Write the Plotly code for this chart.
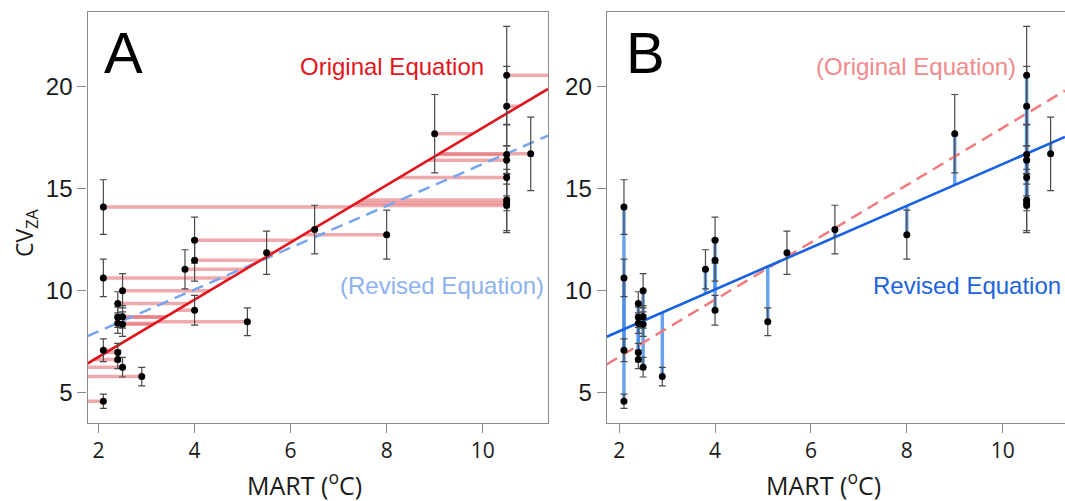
import plotly.graph_objects as go

# ---------------- data ----------------
mart = [2.1, 2.1, 2.1, 2.1,
        2.4, 2.4, 2.4, 2.4, 2.4,
        2.5, 2.5, 2.5, 2.5,
        2.9, 3.8, 4.0, 4.0, 4.0, 5.1, 5.5, 6.5, 8.0, 9.0,
        10.5, 10.5, 10.5, 10.5, 10.5, 10.5, 10.5, 10.5,
        11.0]
cvza = [14.1, 10.63, 7.08, 4.58,
        9.38, 8.70, 8.41, 6.97, 6.63,
        10.0, 8.72, 8.36, 6.25,
        5.79, 11.05, 12.48, 11.5, 9.04, 8.48, 11.86, 13.0, 12.75, 17.7,
        20.56, 19.05, 16.68, 16.40, 15.55, 14.45, 14.30, 14.18,
        16.71]
cv_err = [1.34, 0.92, 0.56, 0.35,
          0.57, 0.50, 0.50, 0.45, 0.45,
          0.84, 0.55, 0.60, 0.48,
          0.45, 0.96, 1.13, 1.03, 0.73, 0.68, 1.06, 1.19, 1.20, 1.92,
          2.40, 1.95, 1.45, 0.70, 0.90, 1.50, 1.45, 0.26,
          1.80]

orig_slope, orig_intercept = 1.404, 3.945   # Original Equation
rev_slope, rev_intercept = 1.025, 5.96      # Revised Equation

x_ticks = [2, 4, 6, 8, 10]
y_ticks = [5, 10, 15, 20]

xrange_a = [1.77, 11.36]
xrange_b = [1.74, 11.30]
yrange = [3.53, 23.68]

W, H = 1065, 501
def px(x):
    return x / W
def py(y):
    return 1 - y / H

RED = "#e2141c"
RED_LIGHT = "#f07c80"
RED_RES = "rgba(226,100,106,0.55)"
BLUE = "#1762e3"
BLUE_LIGHT = "#78a6ee"
BLUE_RES = "rgba(70,140,235,0.8)"
ERR = "#4a4a4a"
AX = "#8a8a8a"

fig = go.Figure()

# ---------------- Panel A ----------------
rx, ry = [], []
for x, y in zip(mart, cvza):
    xl = (y - orig_intercept) / orig_slope
    rx += [x, xl, None]
    ry += [y, y, None]
fig.add_trace(go.Scatter(x=rx, y=ry, mode="lines", line=dict(color=RED_RES, width=3.5),
                         xaxis="x", yaxis="y", hoverinfo="skip"))
fig.add_trace(go.Scatter(x=xrange_a, y=[rev_intercept + rev_slope * v for v in xrange_a],
                         mode="lines", line=dict(color=BLUE_LIGHT, width=2.5, dash="12px,7px"),
                         xaxis="x", yaxis="y"))
fig.add_trace(go.Scatter(x=xrange_a, y=[orig_intercept + orig_slope * v for v in xrange_a],
                         mode="lines", line=dict(color=RED, width=2.6),
                         xaxis="x", yaxis="y"))
fig.add_trace(go.Scatter(x=mart, y=cvza, mode="markers",
                         marker=dict(color="black", size=7),
                         error_y=dict(type="data", array=cv_err, color=ERR, thickness=1.2, width=3.5),
                         xaxis="x", yaxis="y"))

# ---------------- Panel B ----------------
bx, by = [], []
for x, y in zip(mart, cvza):
    yl = rev_intercept + rev_slope * x
    bx += [x, x, None]
    by += [y, yl, None]
fig.add_trace(go.Scatter(x=bx, y=by, mode="lines", line=dict(color=BLUE_RES, width=3.5),
                         xaxis="x2", yaxis="y2", hoverinfo="skip"))
fig.add_trace(go.Scatter(x=xrange_b, y=[orig_intercept + orig_slope * v for v in xrange_b],
                         mode="lines", line=dict(color=RED_LIGHT, width=2.5, dash="12px,7px"),
                         xaxis="x2", yaxis="y2"))
fig.add_trace(go.Scatter(x=xrange_b, y=[rev_intercept + rev_slope * v for v in xrange_b],
                         mode="lines", line=dict(color=BLUE, width=2.6),
                         xaxis="x2", yaxis="y2"))
fig.add_trace(go.Scatter(x=mart, y=cvza, mode="markers",
                         marker=dict(color="black", size=7),
                         error_y=dict(type="data", array=cv_err, color=ERR, thickness=1.2, width=3.5),
                         xaxis="x2", yaxis="y2"))

xax = dict(showline=True, mirror=True, linecolor=AX, linewidth=1.3, showgrid=False, zeroline=False,
           ticks="outside", ticklen=9, tickcolor=AX, tickwidth=1.2, tickvals=x_ticks,
           tickfont=dict(family="Open Sans", size=21, color="#1a1a1a"))
yax = dict(showline=True, mirror=True, linecolor=AX, linewidth=1.3, showgrid=False, zeroline=False,
           ticks="outside", ticklen=9, tickcolor=AX, tickwidth=1.2, tickvals=y_ticks,
           range=yrange, tickfont=dict(family="Liberation Sans", size=24, color="#1a1a1a"),
           domain=[py(422.7), py(11.7)])

fig.update_layout(
    width=W, height=H, margin=dict(l=0, r=0, t=0, b=0),
    paper_bgcolor="white", plot_bgcolor="white", showlegend=False,
    xaxis=dict(xax, range=xrange_a, domain=[px(87.5), px(548)], anchor="y"),
    yaxis=dict(yax, anchor="x"),
    xaxis2=dict(xax, range=xrange_b, domain=[px(606.7), 1.0], anchor="y2"),
    yaxis2=dict(yax, anchor="x2"),
)

ann = [
    dict(text="A", x=px(123.5), y=py(52.5), size=58, color="black", family="Liberation Sans", xanchor="center"),
    dict(text="B", x=px(645), y=py(52.5), size=58, color="black", family="Liberation Sans", xanchor="center"),
    dict(text="Original Equation", x=px(486), y=py(66), size=24, color=RED, family="Liberation Sans", xanchor="right"),
    dict(text="(Revised Equation)", x=px(546), y=py(285), size=24, color="#8cb2f0", family="Liberation Sans", xanchor="right"),
    dict(text="(Original Equation)", x=px(1018), y=py(66), size=24, color="#f08a8c", family="Liberation Sans", xanchor="right"),
    dict(text="Revised Equation", x=px(1063), y=py(285), size=24, color="#1c63e0", family="Liberation Sans", xanchor="right"),
    dict(text="MART (<sup>o</sup>C)", x=px(304), y=py(483), size=25, color="#1a1a1a", family="Open Sans", xanchor="center"),
    dict(text="MART (<sup>o</sup>C)", x=px(823), y=py(483), size=25, color="#1a1a1a", family="Open Sans", xanchor="center"),
]
for a in ann:
    fig.add_annotation(text=a["text"], x=a["x"], y=a["y"], xref="paper", yref="paper",
                       xanchor=a["xanchor"], yanchor="middle", showarrow=False,
                       font=dict(size=a["size"], color=a["color"], family=a["family"]))
fig.add_annotation(text="CV<sub>ZA</sub>", x=px(25), y=py(233), xref="paper", yref="paper",
                   xanchor="center", yanchor="middle", showarrow=False, textangle=-90,
                   font=dict(size=23, color="#1a1a1a", family="Open Sans"))

fig.write_html("out.html")
